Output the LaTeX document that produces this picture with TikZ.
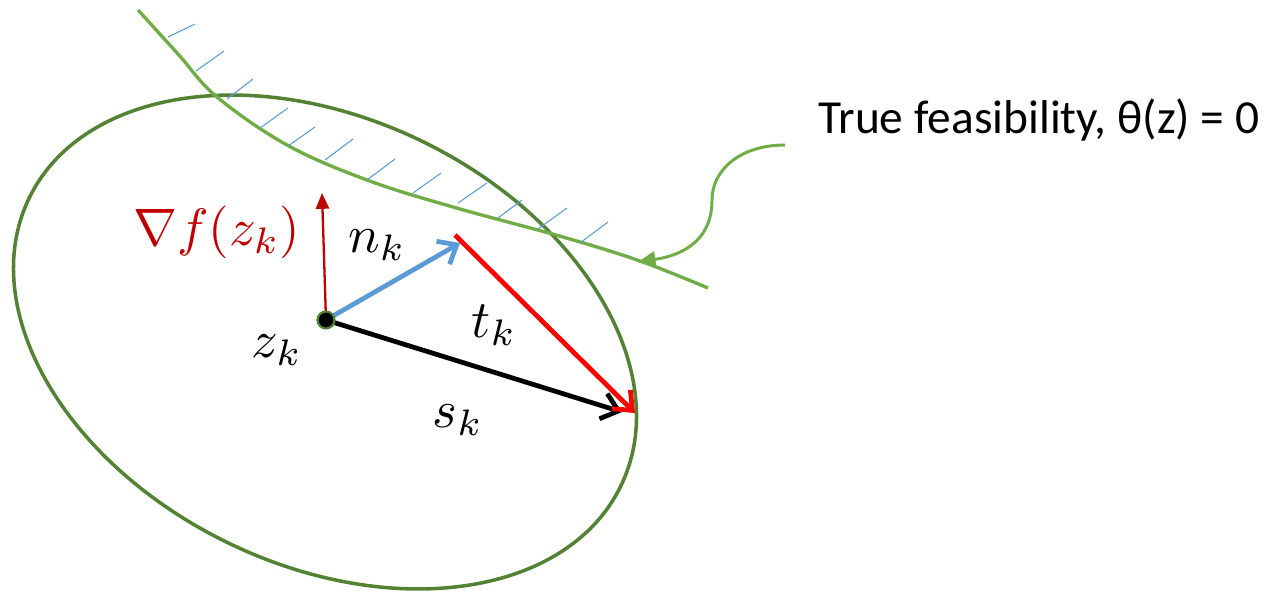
\documentclass[tikz,border=0pt]{standalone}
\usepackage{fontspec}
\newfontfamily\callfont{Carlito}
\usetikzlibrary{arrows.meta}
\definecolor{ellgreen}{HTML}{548235}
\definecolor{feasgreen}{HTML}{70AD47}
\definecolor{hatchblue}{HTML}{5B9BD5}
\definecolor{gradred}{HTML}{C00000}
\definecolor{tred}{HTML}{FF0000}
\tikzset{
  mlab/.style={scale=3, inner sep=0pt},
  hatch/.style={hatchblue, line width=0.6pt},
  vecarrow/.style={line width=2.7pt, -{Straight Barb[length=9pt,width=15pt]}},
}
\begin{document}
\begin{tikzpicture}[x=0.02cm,y=-0.02cm]
\useasboundingbox (0,0) rectangle (1274,593);
% trust region ellipse
\draw[ellgreen, line width=2pt, rotate around={-26:(325,342)}] (325,342) ellipse [x radius=329, y radius=223];
% feasibility curve
\draw[feasgreen, line width=1.9pt] plot[smooth, tension=0.6] coordinates {(138,10) (178,54) (217,97) (287,145) (367,180) (453,207) (563,237) (640,261) (708,288)};
% hatching
\draw[hatch] (168,37) -- (195,24);
\draw[hatch] (196,71) -- (224,51);
\draw[hatch] (227,99) -- (253,79);
\draw[hatch] (260,128) -- (288,108);
\draw[hatch] (288,146) -- (315,127);
\draw[hatch] (325,160) -- (353,139);
\draw[hatch] (367,180) -- (395,159);
\draw[hatch] (413,193) -- (441,173);
\draw[hatch] (458,203) -- (487,183);
\draw[hatch] (498,218) -- (522,200);
\draw[hatch] (538,229) -- (567,208);
\draw[hatch] (580,243) -- (608,222);
% callout
\node[anchor=west, inner sep=0pt, font=\callfont\fontsize{27}{32}\selectfont] (feas) at (818,120) {True feasibility, θ(z) = 0};
\coordinate (cstart) at (785,145);
\coordinate (cend) at (638,262);
\draw[feasgreen, line width=1.7pt, -{Triangle[length=10pt,width=9pt]}] (cstart) .. controls (740,145) and (712,170) .. (712,200) .. controls (712,235) and (690,254) .. (cend);
% vectors
\coordinate (zc) at (326,320);
\coordinate (gtip) at (322,193);
\coordinate (ntip) at (460,243);
\coordinate (tstart) at (455,235);
\coordinate (ttip) at (635,413);
\coordinate (stip) at (622,412);
\draw[gradred, line width=1.3pt, -{Triangle[length=9pt,width=7.5pt]}] (zc) -- (gtip);
\draw[hatchblue, vecarrow] (zc) -- (ntip);
\draw[black, vecarrow] (zc) -- (stip);
\draw[tred, vecarrow] (tstart) -- (ttip);
\node[circle, fill=black, draw=ellgreen, line width=1.2pt, minimum size=0.34cm, inner sep=0pt] (z) at (zc) {};
% labels
\node[mlab, text=gradred] (lgrad) at (217,232) {$\nabla f(z_k)$};
\node[mlab] (ln) at (377,245) {$n_k$};
\node[mlab] (lt) at (494,325) {$t_k$};
\node[mlab] (lz) at (277,350) {$z_k$};
\node[mlab] (ls) at (458,420) {$s_k$};
\end{tikzpicture}
\end{document}
